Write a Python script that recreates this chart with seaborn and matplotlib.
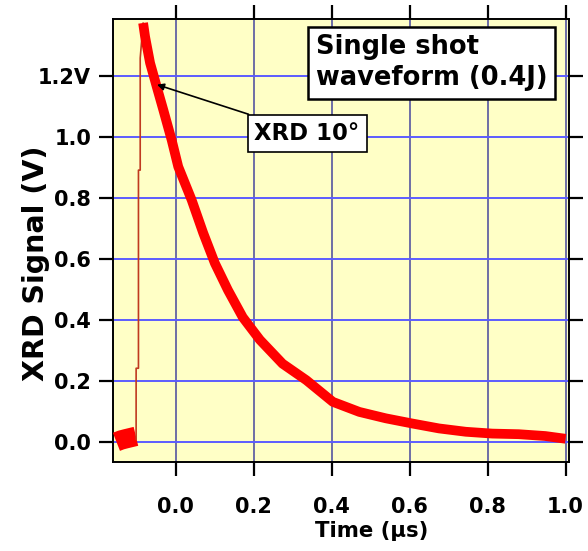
import matplotlib
matplotlib.use("Agg")
import numpy as np
import pandas as pd
import matplotlib.pyplot as plt
import seaborn as sns

# values (time in us, signal in V)
base_time = [-0.152, -0.140, -0.128, -0.115, -0.102]
base_sig = [0.002, 0.008, 0.012, 0.016, 0.020]

rise_time = [-0.1015, -0.1015, -0.0955, -0.0955, -0.091, -0.091, -0.0836]
rise_sig = [0.010, 0.243, 0.243, 0.892, 0.892, 1.259, 1.374]

decay_time = [-0.0836, -0.0785, -0.0657, -0.0486, -0.0317, -0.0102, 0.0066,
              0.041, 0.0706, 0.1005, 0.134, 0.172, 0.216, 0.274,
              0.335, 0.403, 0.471, 0.539, 0.607, 0.675, 0.744,
              0.812, 0.880, 0.948, 1.000]
decay_sig = [1.374, 1.329, 1.243, 1.165, 1.089, 0.990, 0.903,
             0.794, 0.686, 0.587, 0.499, 0.410, 0.336, 0.258,
             0.204, 0.133, 0.100, 0.079, 0.062, 0.046, 0.035,
             0.029, 0.027, 0.021, 0.012]

x_ticks = [0.0, 0.2, 0.4, 0.6, 0.8, 1.0]
x_labels = ['0.0', '0.2', '0.4', '0.6', '0.8', '1.0']
y_ticks = [0.0, 0.2, 0.4, 0.6, 0.8, 1.0, 1.2]
y_labels = ['0.0', '0.2', '0.4', '0.6', '0.8', '1.0', '1.2V']

sns.set_style("ticks")
plt.rcParams['font.family'] = ['DejaVu Sans']
plt.rcParams['font.weight'] = 'bold'
plt.rcParams['text.color'] = 'black'
plt.rcParams['axes.labelcolor'] = 'black'
plt.rcParams['xtick.color'] = 'black'
plt.rcParams['ytick.color'] = 'black'

fig = plt.figure(figsize=(5.88, 5.51), dpi=100)
ax = fig.add_axes([0.1927, 0.161, 0.7745, 0.8045])
ax.set_facecolor('#ffffc6')

base = pd.DataFrame({'t': base_time, 'v': base_sig})
rise = pd.DataFrame({'t': rise_time, 'v': rise_sig})
decay = pd.DataFrame({'t': decay_time, 'v': decay_sig})

sns.lineplot(data=base, x='t', y='v', ax=ax, color='#ff0000', lw=14,
             sort=False, estimator=None, solid_capstyle='butt', zorder=3)
sns.lineplot(data=rise, x='t', y='v', ax=ax, color='#c03a20', lw=1.2,
             sort=False, estimator=None, zorder=3)
sns.lineplot(data=decay, x='t', y='v', ax=ax, color='#ff0000', lw=7,
             sort=False, estimator=None, solid_joinstyle='round',
             solid_capstyle='butt', zorder=3)

ax.set_xlim(-0.16, 1.008)
ax.set_ylim(-0.065, 1.387)
ax.set_xticks(x_ticks)
ax.set_xticklabels(x_labels)
ax.set_yticks(y_ticks)
ax.set_yticklabels(y_labels)

ax.set_axisbelow(True)
ax.xaxis.grid(True, color='#6e6ea6', lw=1.4)
ax.yaxis.grid(True, color='#5c5cff', lw=1.4)

for sp in ax.spines.values():
    sp.set_color('black')
    sp.set_linewidth(1.4)

ax.tick_params(axis='both', which='major', direction='out', length=10,
               width=1.6, color='black', labelsize=15, labelcolor='black',
               top=True, right=True, labeltop=False, labelright=False)
ax.tick_params(axis='x', pad=15)
ax.tick_params(axis='y', pad=6)

ax.set_xlabel('Time (µs)', fontsize=15.3, fontweight='bold', color='black')
ax.set_ylabel('XRD Signal (V)', fontsize=20.5, fontweight='bold', color='black')
ax.xaxis.set_label_coords(0.567, -0.133)
ax.yaxis.set_label_coords(-0.14, 0.448)

ax.text(0.359, 1.243, 'Single shot\nwaveform (0.4J)', fontsize=18.5,
        fontweight='bold', ha='left', va='center', linespacing=1.25,
        color='black', zorder=6,
        bbox=dict(boxstyle='square,pad=0.3', fc='white', ec='black', lw=1.8))

ax.annotate('XRD 10°', xy=(-0.048, 1.172), xytext=(0.202, 1.013),
            fontsize=16.4, fontweight='bold', ha='left', va='center',
            color='black', zorder=6,
            bbox=dict(boxstyle='square,pad=0.3', fc='white', ec='black', lw=1.2),
            arrowprops=dict(arrowstyle='-|>', color='black', lw=1.2,
                            mutation_scale=10, shrinkA=0, shrinkB=0))

fig.savefig('out.png', dpi=100, facecolor='white')
